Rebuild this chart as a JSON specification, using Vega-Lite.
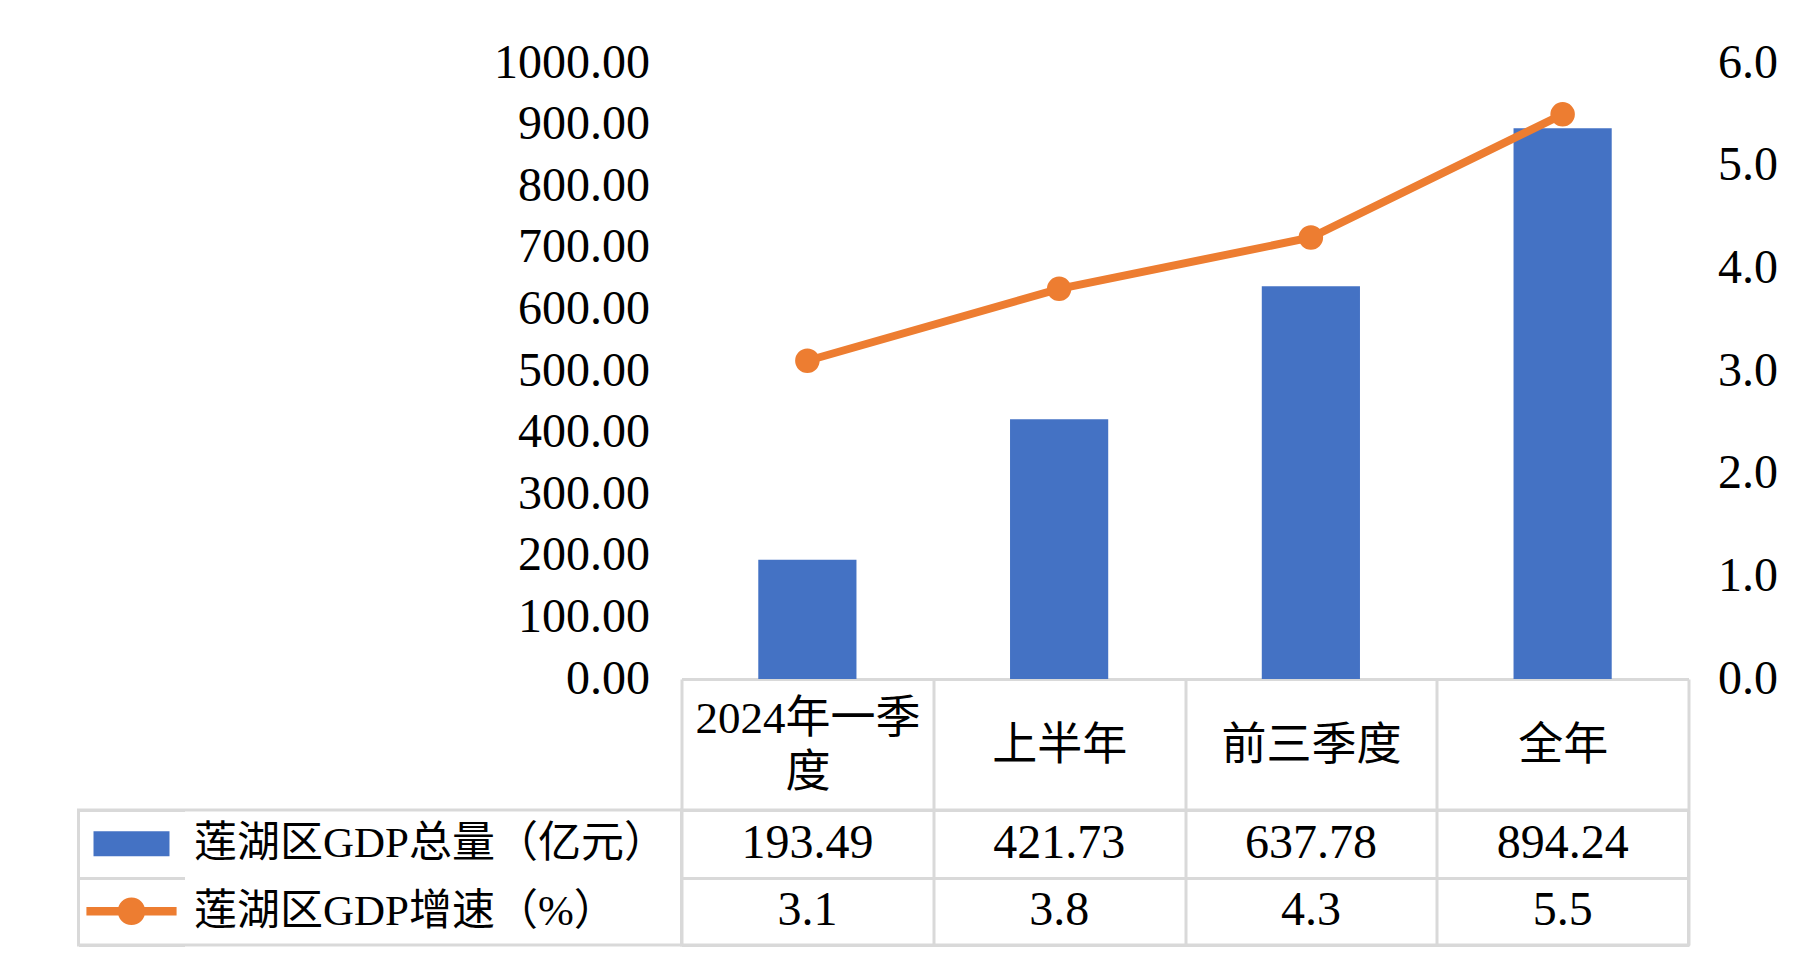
{
  "$schema": "https://vega.github.io/schema/vega-lite/v6.json",
  "padding": {"left": 76.5, "top": 39, "right": 0, "bottom": 0},
  "background": "white",
  "datasets": {
    "gdp": [
      {"period": "2024年一季度", "gdp": 193.49, "rate": 3.1},
      {"period": "上半年", "gdp": 421.73, "rate": 3.8},
      {"period": "前三季度", "gdp": 637.78, "rate": 4.3},
      {"period": "全年", "gdp": 894.24, "rate": 5.5}
    ]
  },
  "columns": 2,
  "spacing": {"row": 131, "column": 0},
  "bounds": "flush",
  "align": "each",
  "resolve": {"scale": {"x": "independent", "y": "independent"}},
  "concat": [
    {
      "width": 603,
      "height": 616,
      "data": {"values": [{}]},
      "mark": {"type": "text", "text": ""},
      "encoding": {}
    },
    {
      "width": 1007,
      "height": 616,
      "data": {"name": "gdp"},
      "layer": [
        {
          "mark": {"type": "bar", "color": "#4472C4", "width": {"band": 0.39}},
          "encoding": {
            "x": {
              "field": "period", "type": "nominal", "sort": null,
              "scale": {"type": "band", "paddingInner": 0, "paddingOuter": 0},
              "axis": {
                "orient": "bottom", "title": null, "labelAngle": 0,
                "domain": true, "domainColor": "#d9d9d9", "domainWidth": 3,
                "ticks": true, "tickBand": "extent", "tickSize": 131, "tickColor": "#d9d9d9", "tickWidth": 3,
                "labelPadding": {"condition": {"test": "datum.value == '2024年一季度'", "value": -92}, "value": -65},
                "labelBaseline": "middle", "labelFontSize": 45, "labelLineHeight": 54,
                "labelFont": "Liberation Serif, Noto Sans CJK SC", "labelColor": "#000000", "labelLimit": 1000,
                "labelExpr": "datum.value == '2024年一季度' ? ['2024年一季', '度'] : datum.value"
              }
            },
            "y": {
              "field": "gdp", "type": "quantitative",
              "scale": {"domain": [0, 1000], "nice": false},
              "axis": {
                "orient": "left", "title": null, "values": [0, 100, 200, 300, 400, 500, 600, 700, 800, 900, 1000],
                "format": ".2f", "domain": false, "ticks": false, "tickSize": 0, "grid": false,
                "labelPadding": 32, "labelFontSize": 48, "labelFont": "Liberation Serif, Noto Sans CJK SC",
                "labelColor": "#000000", "labelBaseline": "middle"
              }
            }
          }
        },
        {
          "mark": {
            "type": "line", "color": "#ED7D31", "strokeWidth": 8,
            "point": {"filled": true, "size": 600, "color": "#ED7D31", "opacity": 1}
          },
          "encoding": {
            "x": {"field": "period", "type": "nominal", "sort": null},
            "y": {
              "field": "rate", "type": "quantitative",
              "scale": {"domain": [0, 6], "nice": false},
              "axis": {
                "orient": "right", "title": null, "values": [0, 1, 2, 3, 4, 5, 6],
                "format": ".1f", "domain": false, "ticks": false, "tickSize": 0, "grid": false,
                "labelPadding": 29, "labelFontSize": 48, "labelFont": "Liberation Serif, Noto Sans CJK SC",
                "labelColor": "#000000", "labelBaseline": "middle"
              }
            }
          }
        }
      ],
      "resolve": {"scale": {"y": "independent"}}
    },
    {
      "width": 603,
      "height": 135,
      "view": {"stroke": "#d9d9d9", "strokeWidth": 3},
      "data": {"values": [{}]},
      "layer": [
        {
          "mark": {
            "type": "point", "filled": true, "opacity": 1, "color": "#4472C4", "strokeWidth": 0,
            "size": 8464, "shape": "M-0.826,-0.272H0.826V0.272H-0.826Z"
          },
          "encoding": {
            "x": {
              "datum": "swatch", "type": "nominal",
              "scale": {"type": "band", "domain": ["swatch"], "range": [0, 106], "paddingInner": 0, "paddingOuter": 0},
              "axis": null
            },
            "y": {
              "datum": "莲湖区GDP总量（亿元）", "type": "nominal",
              "scale": {"type": "band", "domain": ["莲湖区GDP总量（亿元）", "莲湖区GDP增速（%）"], "paddingInner": 0, "paddingOuter": 0},
              "axis": {
                "orient": "left", "title": null, "domain": false, "ticks": false, "tickSize": 0,
                "grid": true, "tickBand": "extent", "gridColor": "#d9d9d9", "gridWidth": 3,
                "labelAlign": "left", "labelPadding": -115, "labelBaseline": "middle",
                "labelFontSize": 43, "labelFont": "Liberation Serif, Noto Sans CJK SC",
                "labelColor": "#000000", "labelLimit": 1000
              }
            }
          }
        },
        {
          "mark": {
            "type": "point", "filled": true, "opacity": 1, "color": "#ED7D31", "strokeWidth": 0,
            "size": 8464,
            "shape": "M-0.98,-0.09H0.98V0.09H-0.98Z M-0.3,0A0.3,0.3 0 1,1 0.3,0A0.3,0.3 0 1,1 -0.3,0Z"
          },
          "encoding": {
            "x": {"datum": "swatch", "type": "nominal"},
            "y": {"datum": "莲湖区GDP增速（%）", "type": "nominal"}
          }
        }
      ]
    },
    {
      "width": 1007,
      "height": 135,
      "view": {"stroke": "#d9d9d9", "strokeWidth": 3},
      "data": {"name": "gdp"},
      "layer": [
        {
          "mark": {"type": "text", "fontSize": 48, "font": "Liberation Serif, Noto Sans CJK SC", "color": "#000000", "baseline": "middle"},
          "encoding": {
            "x": {
              "field": "period", "type": "nominal", "sort": null,
              "scale": {"type": "band", "paddingInner": 0, "paddingOuter": 0},
              "axis": {
                "orient": "bottom", "title": null, "labels": false, "domain": false, "ticks": false,
                "grid": true, "tickBand": "extent", "gridColor": "#d9d9d9", "gridWidth": 3
              }
            },
            "y": {
              "datum": "gdp", "type": "nominal",
              "scale": {"type": "band", "domain": ["gdp", "rate"], "paddingInner": 0, "paddingOuter": 0},
              "axis": {
                "orient": "left", "title": null, "labels": false, "domain": false, "ticks": false,
                "grid": true, "tickBand": "extent", "gridColor": "#d9d9d9", "gridWidth": 3
              }
            },
            "text": {"field": "gdp", "type": "quantitative", "format": ".2f"}
          }
        },
        {
          "mark": {"type": "text", "fontSize": 48, "font": "Liberation Serif, Noto Sans CJK SC", "color": "#000000", "baseline": "middle"},
          "encoding": {
            "x": {"field": "period", "type": "nominal", "sort": null},
            "y": {"datum": "rate", "type": "nominal"},
            "text": {"field": "rate", "type": "quantitative", "format": ".1f"}
          }
        }
      ]
    }
  ],
  "config": {
    "view": {"stroke": null},
    "axis": {"title": null}
  }
}
